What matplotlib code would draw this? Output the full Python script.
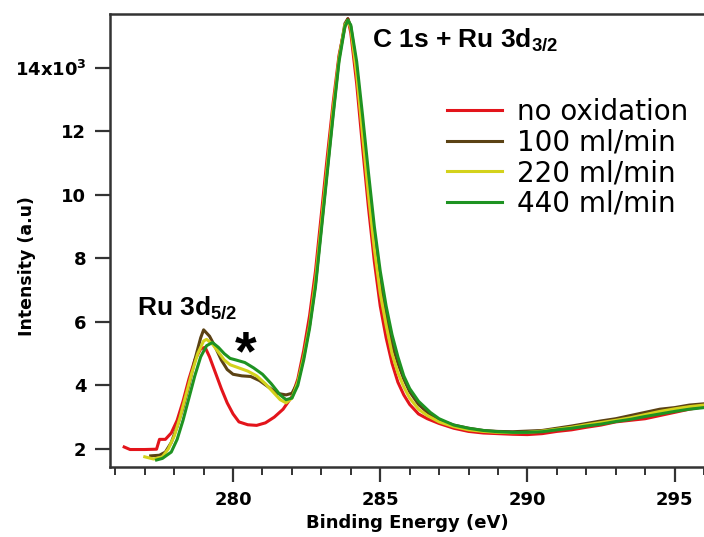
import matplotlib
matplotlib.use("Agg")
import matplotlib.pyplot as plt
from matplotlib.ticker import MultipleLocator, FuncFormatter

# Binding energy (eV) / intensity
x_red = [276.3, 276.5, 277.0, 277.4, 277.5, 277.7, 277.9, 278.1, 278.3, 278.5, 278.7, 278.9,
         279.05, 279.2, 279.4, 279.6, 279.8, 280.0, 280.2, 280.5, 280.8, 281.1, 281.4, 281.7,
         282.0, 282.2, 282.4, 282.6, 282.8, 283.0, 283.2, 283.4, 283.6, 283.8, 283.9, 284.0,
         284.2, 284.4, 284.6, 284.8, 285.0, 285.2, 285.4, 285.6, 285.8, 286.0, 286.3, 286.6,
         287.0, 287.5, 288.0, 288.5, 289.0, 289.5, 290.0, 290.5, 291.0, 291.5, 292.0, 292.5,
         293.0, 293.5, 294.0, 294.5, 295.0, 295.5, 296.0]
y_red = [2060, 1980, 1980, 1990, 2300, 2300, 2500, 2900, 3500, 4200, 4800, 5150,
         5200, 4900, 4400, 3900, 3450, 3100, 2850, 2760, 2740, 2820, 3000, 3250,
         3650, 4200, 5100, 6200, 7600, 9400, 11200, 12900, 14400, 15300, 15550, 15100,
         13500, 11500, 9600, 7900, 6500, 5500, 4700, 4100, 3700, 3400, 3100, 2950,
         2800, 2650, 2550, 2500, 2480, 2460, 2450, 2480, 2550, 2600, 2680, 2750,
         2850, 2900, 2950, 3050, 3150, 3250, 3330]

x_100 = [277.2, 277.5, 277.7, 277.9, 278.1, 278.3, 278.5, 278.7, 278.9, 279.0, 279.2, 279.4,
         279.6, 279.8, 280.0, 280.3, 280.6, 280.9, 281.2, 281.5, 281.8, 282.0, 282.2, 282.4,
         282.6, 282.8, 283.0, 283.2, 283.4, 283.6, 283.8, 283.9, 284.0, 284.2, 284.4, 284.6,
         284.8, 285.0, 285.2, 285.4, 285.6, 285.8, 286.0, 286.3, 286.6, 287.0, 287.5, 288.0,
         288.5, 289.0, 289.5, 290.0, 290.5, 291.0, 291.5, 292.0, 292.5, 293.0, 293.5, 294.0,
         294.5, 295.0, 295.5, 296.0]
y_100 = [1780, 1800, 1900, 2200, 2700, 3300, 4000, 4800, 5500, 5750, 5550, 5200,
         4800, 4500, 4350, 4300, 4280, 4150, 3950, 3750, 3700, 3750, 4100, 4900,
         5900, 7200, 9000, 10800, 12600, 14300, 15400, 15550, 15300, 14000, 12200, 10400,
         8700, 7300, 6200, 5300, 4700, 4200, 3800, 3400, 3150, 2900, 2750, 2650,
         2580, 2550, 2540, 2560, 2580, 2650, 2720, 2800, 2880, 2950, 3050, 3150,
         3250, 3300, 3380, 3420]

x_220 = [277.0, 277.3, 277.6, 277.8, 278.0, 278.2, 278.4, 278.6, 278.8, 279.0, 279.1, 279.3,
         279.5, 279.7, 279.9, 280.2, 280.5, 280.8, 281.1, 281.4, 281.6, 281.8, 282.0, 282.2,
         282.4, 282.6, 282.8, 283.0, 283.2, 283.4, 283.6, 283.8, 283.9, 284.0, 284.2, 284.4,
         284.6, 284.8, 285.0, 285.2, 285.4, 285.6, 285.8, 286.0, 286.3, 286.6, 287.0, 287.5,
         288.0, 288.5, 289.0, 289.5, 290.0, 290.5, 291.0, 291.5, 292.0, 292.5, 293.0, 293.5,
         294.0, 294.5, 295.0, 295.5, 296.0]
y_220 = [1750, 1680, 1750, 2000, 2400, 3000, 3700, 4400, 5000, 5400, 5450, 5300,
         5050, 4800, 4650, 4550, 4450, 4300, 4050, 3750, 3550, 3450, 3600, 4100,
         4900, 5900, 7300, 9100, 10900, 12700, 14300, 15350, 15500, 15250, 13800, 11900,
         10000, 8300, 6900, 5900, 5000, 4400, 3950, 3600, 3250, 3050, 2850, 2700,
         2600, 2550, 2520, 2510, 2520, 2560, 2620, 2680, 2760, 2830, 2900, 2980,
         3080, 3180, 3260, 3330, 3380]

x_440 = [277.4, 277.6, 277.9, 278.1, 278.3, 278.5, 278.7, 278.9, 279.1, 279.3, 279.5, 279.7,
         279.9, 280.1, 280.4, 280.7, 281.0, 281.3, 281.6, 281.8, 282.0, 282.2, 282.4, 282.6,
         282.8, 283.0, 283.2, 283.4, 283.6, 283.8, 283.9, 284.0, 284.2, 284.4, 284.6, 284.8,
         285.0, 285.2, 285.4, 285.6, 285.8, 286.0, 286.3, 286.7, 287.0, 287.5, 288.0, 288.5,
         289.0, 289.5, 290.0, 290.5, 291.0, 291.5, 292.0, 292.5, 293.0, 293.5, 294.0, 294.5,
         295.0, 295.5, 296.0]
y_440 = [1650, 1700, 1900, 2300, 2900, 3600, 4300, 4900, 5250, 5350, 5200, 5000,
         4850, 4800, 4720, 4550, 4350, 4050, 3700, 3550, 3600, 4000, 4800, 5800,
         7100, 8900, 10700, 12500, 14200, 15300, 15500, 15350, 14200, 12500, 10700, 9000,
         7600, 6500, 5600, 4900, 4300, 3900, 3500, 3150, 2950, 2750, 2650, 2580,
         2540, 2520, 2520, 2540, 2600, 2650, 2720, 2780, 2860, 2930, 3020, 3100,
         3180, 3250, 3300]

labels = ["no oxidation", "100 ml/min", "220 ml/min", "440 ml/min"]
colors = ["#e3141b", "#5b4214", "#d4d21c", "#1e9322"]

plt.rcParams["mathtext.default"] = "regular"

fig = plt.figure(figsize=(7.04, 5.37), dpi=100)
ax = fig.add_axes([0.1563, 0.1304, 0.8437, 0.8436])

for xs, ys, lab, c in zip([x_red, x_100, x_220, x_440], [y_red, y_100, y_220, y_440],
                          labels, colors):
    ax.plot(xs, ys, color=c, lw=2.2, label=lab)

ax.set_xlim(275.82, 296.0)
ax.set_ylim(1430, 15700)

ax.xaxis.set_major_locator(MultipleLocator(5))
ax.xaxis.set_minor_locator(MultipleLocator(1))
ax.yaxis.set_major_locator(MultipleLocator(2000))


def yfmt(v, pos):
    if abs(v - 14000) < 1:
        return "14x10$^{3}$"
    return "%d" % round(v / 1000)


ax.yaxis.set_major_formatter(FuncFormatter(yfmt))

for s in ["left", "bottom", "top"]:
    ax.spines[s].set_linewidth(1.8)
    ax.spines[s].set_color("#333333")
ax.spines["right"].set_visible(False)

ax.tick_params(axis="both", which="major", direction="out", length=11, width=1.6,
               color="#333333", labelsize=13, pad=6)
ax.tick_params(axis="x", which="minor", direction="out", length=6, width=1.4,
               color="#333333")
for t in ax.get_xticklabels() + ax.get_yticklabels():
    t.set_fontweight("bold")

ax.set_xlabel("Binding Energy (eV)", fontsize=13, fontweight="bold", labelpad=4)
ax.set_ylabel("Intensity (a.u)", fontsize=12.5, fontweight="bold")
ax.yaxis.set_label_coords(-0.125, 0.444)

ax.text(284.72, 14900, "C 1s + Ru 3d$_{3/2}$", fontsize=19, fontweight="bold",
        family="Liberation Sans", va="center", ha="left")
ax.text(276.75, 6450, "Ru 3d$_{5/2}$", fontsize=19, fontweight="bold",
        family="Liberation Sans", va="center", ha="left")
ax.text(280.44, 4950, "*", fontsize=40, fontweight="bold",
        family="Liberation Sans", va="center", ha="center")

leg = ax.legend(loc="upper left", bbox_to_anchor=(0.548, 0.84), frameon=False,
                fontsize=20, handlelength=2.0, handletextpad=0.55, labelspacing=0.1,
                borderaxespad=0)

fig.savefig("out.png", dpi=100)
